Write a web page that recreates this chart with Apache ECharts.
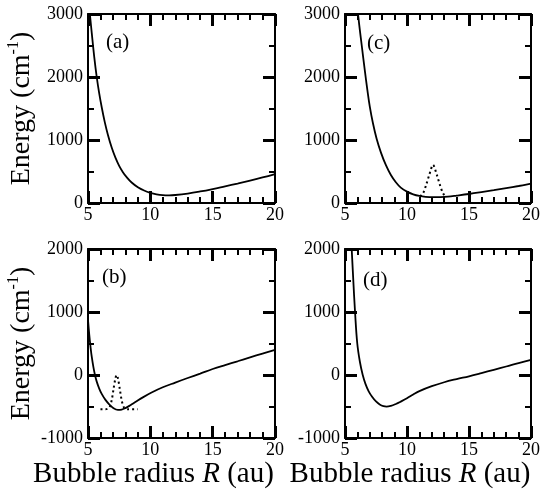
<!DOCTYPE html>
<html><head><meta charset="utf-8">
<script src="https://cdn.jsdelivr.net/npm/echarts@6/dist/echarts.min.js"></script>
<style>html,body{margin:0;padding:0;background:#fff}#c{width:552px;height:491px}</style>
</head><body><div id="c"></div>
<script>
// ---- data ----
const xRange = [5, 20];
const yRangeTop = [0, 3000];
const yRangeBottom = [-1000, 2000];
const panelLabels = ['(a)', '(c)', '(b)', '(d)'];

const curveA = [[5.15,3000],[5.3,2700],[5.5,2320],[5.7,2000],[5.9,1740],[6.1,1520],[6.35,1280],[6.6,1080],[6.9,880],[7.2,720],[7.5,590],[7.8,490],[8.1,410],[8.5,325],[9.0,250],[9.5,198],[10,162],[10.5,138],[11,125],[11.5,122],[12,127],[13,150],[14,183],[15,222],[16,265],[17,308],[18,354],[19,405],[20,460]];
const curveC = [[6.05,3000],[6.2,2740],[6.35,2500],[6.6,2100],[6.8,1800],[7.0,1530],[7.25,1270],[7.55,1020],[7.9,800],[8.3,600],[8.7,445],[9.1,330],[9.5,245],[10.0,180],[10.5,138],[11.0,112],[11.5,98],[12.1,92],[12.7,94],[13.3,102],[14.0,118],[15,143],[16,172],[17,203],[18,236],[19,270],[20,306]];
const waveC = [[11.05,105],[11.3,155],[11.55,290],[11.8,450],[12.1,605],[12.4,450],[12.65,290],[12.9,155],[13.1,110]];
const curveB = [[5.0,875],[5.1,640],[5.2,450],[5.3,290],[5.43,130],[5.56,0],[5.7,-105],[5.9,-215],[6.1,-300],[6.4,-395],[6.7,-465],[7.0,-520],[7.4,-553],[7.7,-548],[8.0,-525],[8.4,-480],[8.8,-430],[9.4,-355],[10.1,-278],[11,-195],[12,-120],[13,-48],[14,22],[15,95],[16,158],[17,218],[18,280],[19,340],[20,400]];
const waveB = [[6.0,-545],[6.4,-545],[6.7,-520],[6.9,-400],[7.05,-220],[7.2,-50],[7.3,0],[7.4,-50],[7.55,-220],[7.7,-400],[7.9,-520],[8.2,-545],[9.0,-545]];
const curveD = [[5.54,2000],[5.67,1500],[5.81,1000],[5.99,500],[6.2,210],[6.43,0],[6.65,-140],[6.9,-255],[7.2,-350],[7.5,-420],[7.8,-468],[8.1,-495],[8.35,-502],[8.7,-490],[9.1,-460],[9.5,-422],[10,-370],[10.5,-310],[11,-256],[12,-178],[13,-115],[14,-65],[15,-20],[16,30],[17,82],[18,135],[19,190],[20,241]];

// ---- chart ----
const FONT = "'Liberation Serif', 'Times New Roman', Times, serif";
const rects = [
  {left: 88, top: 14, width: 187, height: 189},
  {left: 345, top: 14, width: 186, height: 189},
  {left: 88, top: 249, width: 187, height: 189},
  {left: 345, top: 249, width: 186, height: 189}
];
const grids = rects.concat(rects.map(r => Object.assign({}, r)));
const yRanges = [yRangeTop, yRangeTop, yRangeBottom, yRangeBottom];
const fmt = v => String(v);
const majTick = () => ({show: true, inside: true, length: 12, lineStyle: {color: '#000', width: 3}});
const minTick = n => ({show: true, splitNumber: n, length: 6, lineStyle: {color: '#000', width: 2}});
const xAxes = [], yAxes = [];
const yName = '{n|Energy (cm}{s|-1}{n|)}';
const xName = '{n|Bubble radius }{i|R}{n| (au)}';
// frame + tick axes (grids 0-3)
rects.forEach((g, i) => {
  ['bottom', 'top'].forEach(pos => xAxes.push({type: 'value', gridIndex: i, position: pos,
    min: xRange[0], max: xRange[1], interval: 5,
    axisLine: {show: true, onZero: false, lineStyle: {color: '#000', width: 2}},
    axisTick: majTick(), minorTick: minTick(5),
    splitLine: {show: false}, axisLabel: {show: false}}));
  ['left', 'right'].forEach(pos => yAxes.push({type: 'value', gridIndex: i, position: pos,
    min: yRanges[i][0], max: yRanges[i][1], interval: 1000,
    axisLine: {show: true, onZero: false, lineStyle: {color: '#000', width: 2}},
    axisTick: majTick(), minorTick: minTick(2),
    splitLine: {show: false}, axisLabel: {show: false}}));
});
// label axes (grids 4-7), series are drawn on these
rects.forEach((g, i) => {
  const xa = {type: 'value', gridIndex: 4 + i, position: 'bottom', min: xRange[0], max: xRange[1], interval: 5,
    axisLine: {show: false, onZero: false}, axisTick: {show: false}, minorTick: {show: false}, splitLine: {show: false},
    axisLabel: {show: true, formatter: fmt, fontFamily: FONT, fontSize: 18, color: '#000', margin: 3}};
  if (i >= 2) {
    Object.assign(xa, {name: xName, nameLocation: 'middle', nameGap: 17,
      nameTextStyle: {padding: [0, 56, 0, 0], rich: {
        n: {fontFamily: FONT, fontSize: 29, color: '#000'},
        i: {fontFamily: FONT, fontSize: 29, fontStyle: 'italic', color: '#000'}}}});
  }
  xAxes.push(xa);
  const ya = {type: 'value', gridIndex: 4 + i, position: 'left', min: yRanges[i][0], max: yRanges[i][1], interval: 1000,
    axisLine: {show: false, onZero: false}, axisTick: {show: false}, minorTick: {show: false}, splitLine: {show: false},
    axisLabel: {show: true, formatter: fmt, fontFamily: FONT, fontSize: 18, color: '#000', margin: 5}};
  if (i % 2 === 0) {
    Object.assign(ya, {name: yName, nameLocation: 'middle', nameRotate: 90, nameGap: 51,
      nameTextStyle: {rich: {
        n: {fontFamily: FONT, fontSize: 28, color: '#000', lineHeight: 31},
        s: {fontFamily: FONT, fontSize: 16, color: '#000', verticalAlign: 'top', lineHeight: 31}}}});
  }
  yAxes.push(ya);
});

function solid(i, data) {
  return {type: 'line', xAxisIndex: 8 + i, yAxisIndex: 8 + i, data: data, showSymbol: false,
    smooth: 0.4, clip: true, lineStyle: {color: '#000', width: 1.8}, silent: true};
}
function dotted(i, data) {
  return {type: 'line', xAxisIndex: 8 + i, yAxisIndex: 8 + i, data: data, showSymbol: false,
    smooth: 0.3, clip: true, lineStyle: {color: '#000', width: 2, type: [2, 3]}, silent: true};
}
const labelPos = [[106, 44], [367, 45], [102, 279], [363, 282]];
const chart = echarts.init(document.getElementById('c'));
chart.setOption({
  animation: false,
  backgroundColor: '#fff',
  grid: grids,
  xAxis: xAxes,
  yAxis: yAxes,
  series: [solid(0, curveA), solid(1, curveC), dotted(1, waveC), solid(2, curveB), dotted(2, waveB), solid(3, curveD)],
  graphic: panelLabels.map((t, k) => ({type: 'text', left: labelPos[k][0], top: labelPos[k][1] - 12,
    style: {text: t, font: "21px 'Liberation Serif', serif", fill: '#000'}}))
});
</script></body></html>
